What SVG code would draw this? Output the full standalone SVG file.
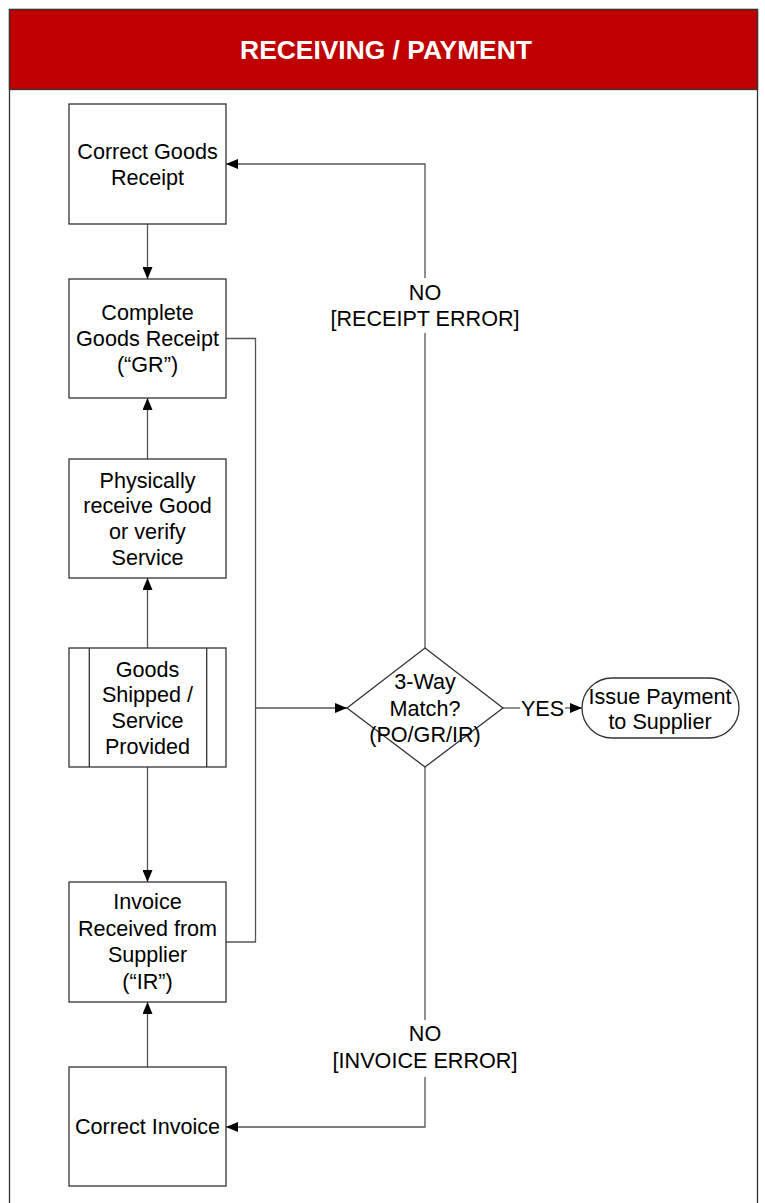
<svg xmlns="http://www.w3.org/2000/svg" width="765" height="1203" viewBox="0 0 765 1203">
<style>
.box{fill:#fff;stroke:#333;stroke-width:1.3}
.t{font-family:"Liberation Sans",Arial,sans-serif;font-size:21.6px;fill:#000;text-anchor:middle}
.c{fill:none;stroke:#555;stroke-width:1.3}
.h{font-family:"Liberation Sans",Arial,sans-serif;font-size:26.4px;font-weight:bold;fill:#fff;text-anchor:middle}
</style>
<defs>
<marker id="ar" markerUnits="userSpaceOnUse" markerWidth="12" markerHeight="10" refX="12" refY="5" orient="auto">
<path d="M0,0 L12,5 L0,10 Z" fill="#000"/>
</marker>
</defs>
<rect x="0" y="0" width="765" height="1203" fill="#fff"/>
<g id="frame">
<rect x="9.5" y="9.5" width="748" height="1210" fill="#fff" stroke="#333" stroke-width="1.3"/>
<rect x="9.5" y="9.5" width="748" height="80" fill="#C00000" stroke="#333" stroke-width="1.3"/>
<text class="h" x="386" y="58.5">RECEIVING / PAYMENT</text>
</g>
<g id="connectors">
<line class="c" x1="147.5" y1="224" x2="147.5" y2="279" marker-end="url(#ar)"/>
<line class="c" x1="147.5" y1="459" x2="147.5" y2="398" marker-end="url(#ar)"/>
<line class="c" x1="147.5" y1="648" x2="147.5" y2="578" marker-end="url(#ar)"/>
<line class="c" x1="147.5" y1="767" x2="147.5" y2="882" marker-end="url(#ar)"/>
<line class="c" x1="147.5" y1="1067" x2="147.5" y2="1002" marker-end="url(#ar)"/>
<polyline class="c" points="226,338.5 255.5,338.5 255.5,942 226,942"/>
<line class="c" x1="255.5" y1="708" x2="347" y2="708" marker-end="url(#ar)"/>
<polyline class="c" points="425,648 425,333"/>
<polyline class="c" points="425,278 425,164 226,164" marker-end="url(#ar)"/>
<text class="t" x="425" y="299.5">NO</text>
<text class="t" x="425" y="325.5">[RECEIPT ERROR]</text>
<polyline class="c" points="425,767 425,1020"/>
<polyline class="c" points="425,1077 425,1127 226,1127" marker-end="url(#ar)"/>
<text class="t" x="425" y="1041">NO</text>
<text class="t" x="425" y="1067.5">[INVOICE ERROR]</text>
<line class="c" x1="503" y1="708" x2="520" y2="708"/>
<text class="t" x="542.5" y="715.5">YES</text>
<line class="c" x1="565" y1="708" x2="582" y2="708" marker-end="url(#ar)"/>
</g>
<g id="correct-gr">
<rect class="box" x="69" y="104" width="157" height="120"/>
<text class="t" x="147.5" y="158.5">Correct Goods</text>
<text class="t" x="147.5" y="184.5">Receipt</text>
</g>
<g id="complete-gr">
<rect class="box" x="69" y="279" width="157" height="119"/>
<text class="t" x="147.5" y="320">Complete</text>
<text class="t" x="147.5" y="346">Goods Receipt</text>
<text class="t" x="147.5" y="372">(“GR”)</text>
</g>
<g id="physically">
<rect class="box" x="69" y="459" width="157" height="119"/>
<text class="t" x="147.5" y="487.5">Physically</text>
<text class="t" x="147.5" y="513">receive Good</text>
<text class="t" x="147.5" y="539">or verify</text>
<text class="t" x="147.5" y="564.5">Service</text>
</g>
<g id="goods-shipped">
<rect class="box" x="69" y="648" width="157" height="119"/>
<line class="box" x1="89.3" y1="648" x2="89.3" y2="767"/>
<line class="box" x1="206.7" y1="648" x2="206.7" y2="767"/>
<text class="t" x="147.5" y="676.5">Goods</text>
<text class="t" x="147.5" y="702">Shipped /</text>
<text class="t" x="147.5" y="728">Service</text>
<text class="t" x="147.5" y="753.5">Provided</text>
</g>
<g id="invoice-received">
<rect class="box" x="69" y="882" width="157" height="120"/>
<text class="t" x="147.5" y="909">Invoice</text>
<text class="t" x="147.5" y="935.5">Received from</text>
<text class="t" x="147.5" y="962">Supplier</text>
<text class="t" x="147.5" y="988.5">(“IR”)</text>
</g>
<g id="correct-invoice">
<rect class="box" x="69" y="1067" width="157" height="119"/>
<text class="t" x="147.5" y="1134">Correct Invoice</text>
</g>
<g id="match">
<polygon class="box" points="425,648 503,708 425,767 347,708"/>
<text class="t" x="425" y="689">3-Way</text>
<text class="t" x="425" y="715.5">Match?</text>
<text class="t" x="425" y="742">(PO/GR/IR)</text>
</g>
<g id="issue-payment">
<rect class="box" x="582" y="678" width="157" height="60" rx="30" ry="30"/>
<text class="t" x="660" y="704">Issue Payment</text>
<text class="t" x="660" y="728.5">to Supplier</text>
</g>
</svg>
